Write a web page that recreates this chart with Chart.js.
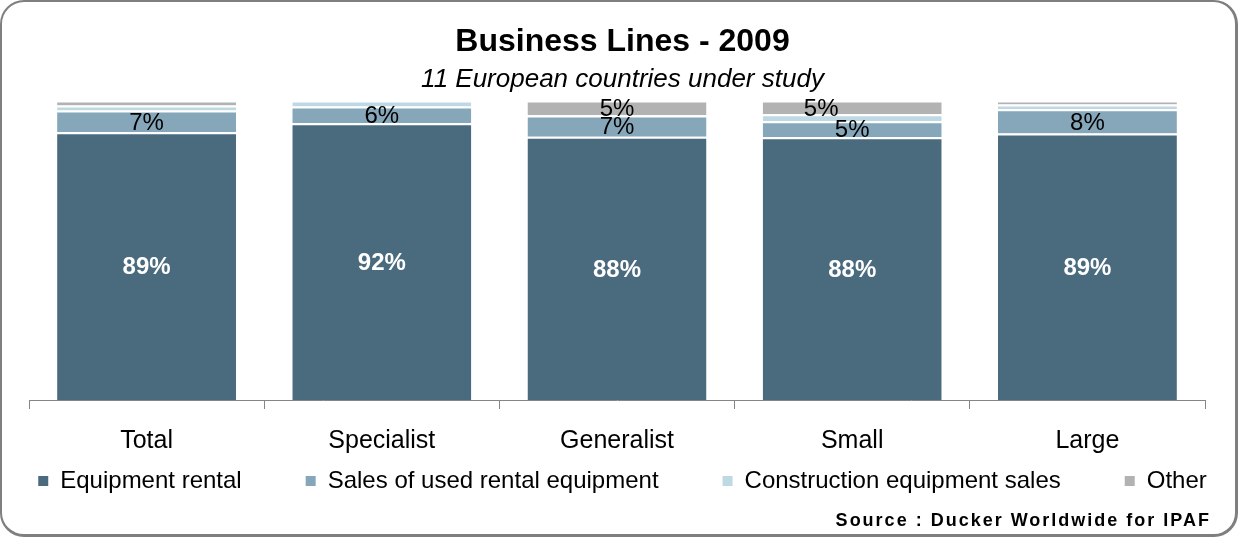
<!DOCTYPE html>
<html>
<head>
<meta charset="utf-8">
<title>Business Lines - 2009</title>
<script src="https://cdn.jsdelivr.net/npm/chart.js@4.4.0/dist/chart.umd.min.js"></script>
<style>
  body { margin: 0; background: #fff; }
  #wrap { position: relative; width: 1239px; height: 540px; }
  #frame {
    position: absolute; left: 0; top: 0; width: 1238px; height: 537px;
    box-sizing: border-box; border: 2px solid #7f7f7f;
    border-right-width: 3px; border-bottom-width: 3px; border-radius: 24px;
  }
  #myChart { position: absolute; left: 0; top: 0; }
</style>
</head>
<body>
<div id="wrap">
  <div id="frame"></div>
  <canvas id="myChart" width="1239" height="540"></canvas>
</div>
<script>
var categories = ['Total', 'Specialist', 'Generalist', 'Small', 'Large'];
var seriesNames = ['Equipment rental', 'Sales of used rental equipment', 'Construction equipment sales', 'Other'];

// share of turnover in %
var rental = [89.4, 92.4, 87.9, 87.8, 89.0];
var usedSales = [7.3, 5.6, 7.1, 5.3, 8.1];
var constructionSales = [1.7, 2.0, 0.2, 2.3, 1.6];
var other = [1.6, 0, 4.8, 4.6, 1.3];

// labels as printed on the chart ('' = not shown)
var rentalLabels = ['89%', '92%', '88%', '88%', '89%'];
var usedSalesLabels = ['7%', '6%', '7%', '5%', '8%'];
var constructionLabels = ['', '', '', '', ''];
var otherLabels = ['', '', '5%', '5%', ''];

var titleText = 'Business Lines - 2009';
var subtitleText = '11 European countries under study';
var sourceText = 'Source : Ducker Worldwide for IPAF';

Chart.defaults.font.family = '"Liberation Sans", Arial, sans-serif';
Chart.defaults.color = '#000';

// value labels in the middle of each segment
var barLabels = {
  id: 'barLabels',
  afterDatasetsDraw: function(chart) {
    var ctx = chart.ctx;
    chart.data.datasets.forEach(function(ds, i) {
      var meta = chart.getDatasetMeta(i);
      meta.data.forEach(function(bar, j) {
        var text = ds.valueLabels[j];
        if (!text) return;
        var dx = ds.labelShiftX ? ds.labelShiftX[j] : 0;
        ctx.save();
        ctx.font = ds.labelFont;
        ctx.fillStyle = ds.labelColor;
        ctx.textAlign = 'center';
        ctx.textBaseline = 'middle';
        ctx.fillText(text, bar.x + dx, (bar.y + bar.base) / 2 + 1.5);
        ctx.restore();
      });
    });
  }
};

var sourceNote = {
  id: 'sourceNote',
  afterDraw: function(chart) {
    var ctx = chart.ctx;
    ctx.save();
    ctx.font = 'bold 18px "Liberation Sans", Arial, sans-serif';
    ctx.letterSpacing = '2px';
    ctx.fillStyle = '#000';
    ctx.textAlign = 'right';
    ctx.textBaseline = 'alphabetic';
    ctx.fillText(sourceText, 1211, 526);
    ctx.restore();
  }
};

// the legend needs a wide padding for its item gaps; pull it up under the axis
var legendUp = {
  id: 'legendUp',
  afterLayout: function(chart) {
    var lg = chart.legend;
    var h = lg.bottom - lg.top;
    lg.top = chart.chartArea.bottom + 5;
    lg.bottom = lg.top + h;
  }
};

var ctx = document.getElementById('myChart').getContext('2d');
var chart = new Chart(ctx, {
  type: 'bar',
  data: {
    labels: categories,
    datasets: [
      {
        label: seriesNames[0],
        data: rental,
        backgroundColor: '#4a6a7e',
        valueLabels: rentalLabels,
        labelFont: 'bold 24px "Liberation Sans", Arial, sans-serif',
        labelColor: '#fff'
      },
      {
        label: seriesNames[1],
        data: usedSales,
        backgroundColor: '#86a6b9',
        valueLabels: usedSalesLabels,
        labelFont: '24px "Liberation Sans", Arial, sans-serif',
        labelColor: '#000'
      },
      {
        label: seriesNames[2],
        data: constructionSales,
        backgroundColor: '#bed9e3',
        valueLabels: constructionLabels,
        labelFont: '24px "Liberation Sans", Arial, sans-serif',
        labelColor: '#000'
      },
      {
        label: seriesNames[3],
        data: other,
        backgroundColor: '#b2b2b2',
        valueLabels: otherLabels,
        labelShiftX: [0, 0, 0, -31, 0],
        labelFont: '24px "Liberation Sans", Arial, sans-serif',
        labelColor: '#000'
      }
    ]
  },
  options: {
    responsive: false,
    animation: false,
    events: [],
    datasets: {
      bar: {
        barPercentage: 0.761,
        categoryPercentage: 1,
        borderColor: '#fff',
        borderWidth: { top: 2, right: 0, bottom: 0, left: 0 }
      }
    },
    layout: { padding: { top: 22, left: -32, right: -38, bottom: -31 } },
    scales: {
      x: {
        stacked: true,
        grid: { drawOnChartArea: false, drawTicks: true, tickLength: 9, color: '#868686' },
        border: { display: true, color: '#868686', width: 1 },
        ticks: { color: '#000', padding: 17, font: { size: 25 } },
        afterFit: function(scale) {
          // plot spans x 29..1205
          scale.paddingLeft = 29;
          scale.paddingRight = 34;
        }
      },
      y: { stacked: true, display: false, min: 0, max: 100 }
    },
    plugins: {
      title: {
        display: true,
        text: titleText,
        color: '#000',
        font: { size: 32, weight: 'bold' },
        padding: { top: 1, bottom: 0 }
      },
      subtitle: {
        display: true,
        text: subtitleText,
        color: '#000',
        font: { size: 26, style: 'italic' },
        padding: { top: 3, bottom: 5 }
      },
      legend: {
        position: 'bottom',
        labels: {
          color: '#000',
          font: { size: 24 },
          boxWidth: 10,
          boxHeight: 10,
          padding: 64,
          generateLabels: function(chart) {
            var items = Chart.defaults.plugins.legend.labels.generateLabels(chart);
            items.forEach(function(it) { it.lineWidth = 0; });
            return items;
          }
        }
      },
      tooltip: { enabled: false }
    }
  },
  plugins: [barLabels, sourceNote, legendUp]
});
</script>
</body>
</html>
